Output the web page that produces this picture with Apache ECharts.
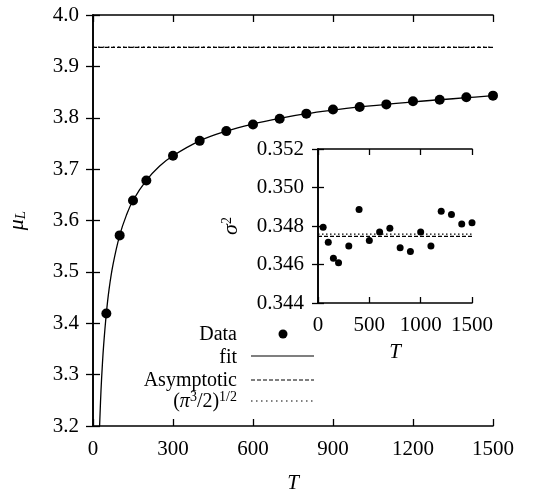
<!DOCTYPE html>
<html>
<head>
<meta charset="utf-8">
<script src="https://cdn.jsdelivr.net/npm/echarts@6/dist/echarts.min.js"></script>
<style>html,body{margin:0;padding:0;background:#fff;}#c{width:535px;height:490px;}</style>
</head>
<body>
<div id="c"></div>
<script>
// ---- data ----
const T = [50, 100, 150, 200, 300, 400, 500, 600, 700, 800, 900, 1000, 1100, 1200, 1300, 1400, 1500];
const muL = [3.419, 3.571, 3.639, 3.678, 3.726, 3.755, 3.774, 3.787, 3.798, 3.808, 3.816, 3.821, 3.826, 3.832, 3.835, 3.840, 3.843];
const fitT = [24.7, 30, 35, 40, 50, 60, 75, 100, 125, 150, 200, 250, 300, 400, 500, 600, 700, 800, 900, 1000, 1100, 1200, 1300, 1400, 1500];
const fitMu = [3.200, 3.269, 3.318, 3.358, 3.419, 3.465, 3.514, 3.571, 3.610, 3.639, 3.678, 3.706, 3.726, 3.755, 3.774, 3.788, 3.799, 3.808, 3.815, 3.821, 3.826, 3.831, 3.835, 3.839, 3.843];
const asymptoticMu = 3.937;
const piConstMu = 3.9374;
const sigma2 = [0.34793, 0.34715, 0.34632, 0.34609, 0.34696, 0.34886, 0.34725, 0.34769, 0.34788, 0.34687, 0.34667, 0.34769, 0.34696, 0.34876, 0.34860, 0.34810, 0.34817];
const asymptoticSigma = 0.34746;
const piConstSigma = 0.34758;
const xRange = [0, 1500];

const FONT = '"Liberation Serif", "Times New Roman", serif';
const chart = echarts.init(document.getElementById('c'), null, {renderer: 'canvas'});

const axisLine = {show: true, lineStyle: {color: '#000', width: 1.6}};
const tick = (len) => ({show: true, inside: true, length: len, lineStyle: {color: '#000', width: 1.3}});
const lbl = (fmt, margin) => ({show: true, color: '#000', fontFamily: FONT, fontSize: 21, margin: margin, formatter: fmt});
const hidden = {show: false};

function pair(a, b) { return a.map((v, i) => [v, b[i]]); }
function hline(v) { return [[xRange[0], v], [xRange[1], v]]; }

const option = {
  animation: false,
  backgroundColor: '#fff',
  textStyle: {fontFamily: FONT, color: '#000'},
  grid: [
    {left: 93, top: 15, right: 42, bottom: 64, show: false, containLabel: false, outerBoundsMode: 'none'},
    {left: 318, top: 149, right: 63, bottom: 187, show: true, backgroundColor: '#fff', borderWidth: 0, z: 5, containLabel: false, outerBoundsMode: 'none'}
  ],
  xAxis: [
    {gridIndex: 0, type: 'value', min: 0, max: 1500, interval: 300, axisLine, axisTick: tick(7),
     axisLabel: lbl(v => String(v), 13), splitLine: hidden,
     name: 'T', nameLocation: 'middle', nameGap: 47,
     nameTextStyle: {fontFamily: FONT, fontSize: 21, fontStyle: 'italic', color: '#000', verticalAlign: 'top'}},
    {gridIndex: 0, type: 'value', position: 'top', min: 0, max: 1500, interval: 300, axisLine, axisTick: tick(7), axisLabel: hidden, splitLine: hidden},
    {gridIndex: 1, type: 'value', min: 0, max: 1500, interval: 500, axisLine, axisTick: tick(6),
     axisLabel: lbl(v => String(v), 12), splitLine: hidden,
     name: 'T', nameLocation: 'middle', nameGap: 39, z: 6,
     nameTextStyle: {fontFamily: FONT, fontSize: 21, fontStyle: 'italic', color: '#000', verticalAlign: 'top'}},
    {gridIndex: 1, type: 'value', position: 'top', min: 0, max: 1500, interval: 500, axisLine, axisTick: tick(6), axisLabel: hidden, splitLine: hidden, z: 6}
  ],
  yAxis: [
    {gridIndex: 0, type: 'value', min: 3.2, max: 4.0, interval: 0.1, axisLine, axisTick: tick(7),
     axisLabel: lbl(v => v.toFixed(1), 14), splitLine: hidden,
     name: '{m|μ}{s|L}', nameLocation: 'middle', nameGap: 64, nameRotate: 90,
     nameTextStyle: {color: '#000', rich: {
       m: {fontFamily: FONT, fontSize: 22, fontStyle: 'italic', color: '#000'},
       s: {fontFamily: FONT, fontSize: 15, fontStyle: 'italic', color: '#000', verticalAlign: 'bottom', padding: [8, 0, 0, 0]}}}},
    {gridIndex: 0, type: 'value', position: 'right', min: 3.2, max: 4.0, interval: 0.1, axisLine, axisTick: tick(7), axisLabel: hidden, splitLine: hidden},
    {gridIndex: 1, type: 'value', min: 0.344, max: 0.352, interval: 0.002, axisLine, axisTick: tick(6),
     axisLabel: lbl(v => v.toFixed(3), 14), splitLine: hidden, z: 6,
     name: '{m|σ}{s|2}', nameLocation: 'middle', nameGap: 76, nameRotate: 90,
     nameTextStyle: {color: '#000', rich: {
       m: {fontFamily: FONT, fontSize: 22, fontStyle: 'italic', color: '#000'},
       s: {fontFamily: FONT, fontSize: 14, color: '#000', verticalAlign: 'top', padding: [0, 0, 8, 0]}}}},
    {gridIndex: 1, type: 'value', position: 'right', min: 0.344, max: 0.352, interval: 0.002, axisLine, axisTick: tick(6), axisLabel: hidden, splitLine: hidden, z: 6}
  ],
  series: [
    {name: 'fit', type: 'line', xAxisIndex: 0, yAxisIndex: 0, data: pair(fitT, fitMu), smooth: 0.4, showSymbol: false,
     lineStyle: {color: '#000', width: 1.3}, clip: true, z: 2},
    {name: 'Data', type: 'scatter', xAxisIndex: 0, yAxisIndex: 0, data: pair(T, muL), symbol: 'circle', symbolSize: 10,
     itemStyle: {color: '#000', opacity: 1}, z: 3},
    {name: 'Asymptotic', type: 'line', xAxisIndex: 0, yAxisIndex: 0, data: hline(asymptoticMu), showSymbol: false,
     lineStyle: {color: '#000', width: 1.1, type: [4, 2]}, z: 2},
    {name: 'pi', type: 'line', xAxisIndex: 0, yAxisIndex: 0, data: hline(piConstMu), showSymbol: false,
     lineStyle: {color: '#000', width: 1.1, type: [1.5, 3.5]}, z: 2},
    {name: 'Data inset', type: 'scatter', xAxisIndex: 2, yAxisIndex: 2, data: pair(T, sigma2), symbol: 'circle', symbolSize: 7,
     itemStyle: {color: '#000', opacity: 1}, z: 8},
    {name: 'Asymptotic inset', type: 'line', xAxisIndex: 2, yAxisIndex: 2, data: hline(asymptoticSigma), showSymbol: false,
     lineStyle: {color: '#000', width: 1.1, type: [4, 2]}, z: 7},
    {name: 'pi inset', type: 'line', xAxisIndex: 2, yAxisIndex: 2, data: hline(piConstSigma), showSymbol: false,
     lineStyle: {color: '#000', width: 1.1, type: [1.5, 2.5]}, z: 7}
  ],
  graphic: [
    {type: 'text', x: 237, y: 335, style: {text: 'Data', font: '20px "Liberation Serif"', fill: '#000', align: 'right', verticalAlign: 'middle'}},
    {type: 'circle', shape: {cx: 283, cy: 334, r: 4.5}, style: {fill: '#000'}},
    {type: 'text', x: 237, y: 358, style: {text: 'fit', font: '20px "Liberation Serif"', fill: '#000', align: 'right', verticalAlign: 'middle'}},
    {type: 'line', shape: {x1: 251, y1: 356, x2: 314, y2: 356}, style: {stroke: '#000', lineWidth: 1.2}},
    {type: 'text', x: 237, y: 381, style: {text: 'Asymptotic', font: '20px "Liberation Serif"', fill: '#000', align: 'right', verticalAlign: 'middle'}},
    {type: 'line', shape: {x1: 251, y1: 380, x2: 314, y2: 380}, style: {stroke: '#000', lineWidth: 1.1, lineDash: [4, 2]}},
    {type: 'text', x: 237, y: 402, style: {
      text: '{a|(}{p|π}{s|3}{a|/2)}{s|1/2}', align: 'right', verticalAlign: 'middle',
      rich: {
        a: {fontFamily: FONT, fontSize: 20, fill: '#000'},
        p: {fontFamily: FONT, fontSize: 20, fontStyle: 'italic', fill: '#000'},
        s: {fontFamily: FONT, fontSize: 14, fill: '#000', verticalAlign: 'top', padding: [0, 0, 10, 0]}
      }}},
    {type: 'line', shape: {x1: 251, y1: 401, x2: 314, y2: 401}, style: {stroke: '#000', lineWidth: 1.1, lineDash: [1.5, 3.5]}}
  ]
};
chart.setOption(option);
</script>
</body>
</html>
